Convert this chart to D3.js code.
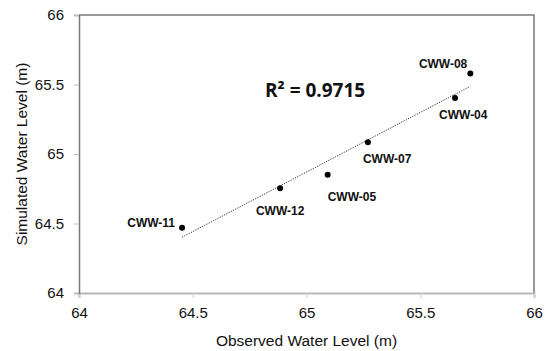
<!DOCTYPE html>
<html>
<head>
<meta charset="utf-8">
<script src="https://cdn.jsdelivr.net/npm/d3@7"></script>
<style>
  body { margin: 0; background: #fff; }
  svg { display: block; font-family: "Liberation Sans", Arial, sans-serif; }
</style>
</head>
<body>
<script>
// data
const wells    = ["CWW-08", "CWW-04", "CWW-07", "CWW-05", "CWW-12", "CWW-11"];
const observed = [65.72, 65.653, 65.27, 65.093, 64.884, 64.453];
const simulated= [65.58, 65.403, 65.084, 64.851, 64.753, 64.47];
const xTicks = [64, 64.5, 65, 65.5, 66];
const yTicks = [64, 64.5, 65, 65.5, 66];
const rSquared = "0.9715";

// label placement relative to each point (px)
const labelPos = {
  "CWW-08": { dx: -3, dy: -5, anchor: "end" },
  "CWW-04": { dx: -16, dy: 21, anchor: "start" },
  "CWW-07": { dx: -5, dy: 21, anchor: "start" },
  "CWW-05": { dx: 0, dy: 26, anchor: "start" },
  "CWW-12": { dx: 0, dy: 27, anchor: "middle" },
  "CWW-11": { dx: -7, dy: -1, anchor: "end" }
};

const width = 549, height = 351;
const margin = { top: 15, left: 79, right: 15, bottom: 58 };

const svg = d3.select("body").append("svg")
  .attr("width", width).attr("height", height);

const x = d3.scaleLinear().domain([64, 66]).range([margin.left, width - margin.right]);
const y = d3.scaleLinear().domain([64, 66]).range([height - margin.bottom, margin.top]);

const pts = wells.map((w, i) => ({ name: w, x: observed[i], y: simulated[i] }));

// frame (top + right borders)
svg.append("path")
  .attr("d", `M${x(64)},${y(66)}H${x(66)}V${y(64)}`)
  .attr("fill", "none").attr("stroke", "#7a7a7a").attr("stroke-width", 1.5);

// x axis
const xAxis = svg.append("g")
  .attr("transform", `translate(0,${y(64)})`)
  .call(d3.axisBottom(x).tickValues(xTicks).tickSize(5).tickPadding(9).tickFormat(d3.format("")));
xAxis.select(".domain").attr("stroke", "#b8b8b8").attr("stroke-width", 2);
xAxis.selectAll(".tick line").attr("stroke", "#cfcfcf");
xAxis.selectAll(".tick text").attr("font-size", 15).attr("fill", "#111")
  .attr("font-family", "Liberation Sans, Arial, sans-serif");

// y axis
const yAxis = svg.append("g")
  .attr("transform", `translate(${x(64)},0)`)
  .call(d3.axisLeft(y).tickValues(yTicks).tickSize(5).tickPadding(10).tickFormat(d3.format("")));
yAxis.select(".domain").attr("stroke", "#7a7a7a").attr("stroke-width", 1.5);
yAxis.selectAll(".tick line").attr("stroke", "#bdbdbd");
yAxis.selectAll(".tick text").attr("font-size", 15).attr("fill", "#111")
  .attr("font-family", "Liberation Sans, Arial, sans-serif");

// linear trend line (least squares)
const mx = d3.mean(pts, d => d.x), my = d3.mean(pts, d => d.y);
const slope = d3.sum(pts, d => (d.x - mx) * (d.y - my)) / d3.sum(pts, d => (d.x - mx) ** 2);
const icpt = my - slope * mx;
const [x0, x1] = d3.extent(pts, d => d.x);
svg.append("line")
  .attr("x1", x(x0)).attr("y1", y(icpt + slope * x0))
  .attr("x2", x(x1)).attr("y2", y(icpt + slope * x1))
  .attr("stroke", "#333").attr("stroke-width", 1)
  .attr("stroke-dasharray", "1.2,1.3");

// points
svg.append("g").selectAll("circle").data(pts).join("circle")
  .attr("cx", d => x(d.x)).attr("cy", d => y(d.y)).attr("r", 3)
  .attr("fill", "#000");

// point labels
svg.append("g").selectAll("text").data(pts).join("text")
  .attr("x", d => x(d.x) + labelPos[d.name].dx)
  .attr("y", d => y(d.y) + labelPos[d.name].dy)
  .attr("text-anchor", d => labelPos[d.name].anchor)
  .attr("font-size", 12).attr("font-weight", "bold").attr("fill", "#111")
  .text(d => d.name);

// R squared
svg.append("text")
  .attr("x", 265).attr("y", 97)
  .attr("font-family", "Open Sans, sans-serif")
  .attr("font-size", 19).attr("font-weight", "bold").attr("fill", "#111")
  .text("R² = " + rSquared);

// axis titles
svg.append("text")
  .attr("x", (x(64) + x(66)) / 2).attr("y", 346)
  .attr("text-anchor", "middle").attr("font-size", 15.5).attr("fill", "#111")
  .text("Observed Water Level (m)");

svg.append("text")
  .attr("transform", `translate(27,${(y(64) + y(66)) / 2}) rotate(-90)`)
  .attr("text-anchor", "middle").attr("font-size", 15.5).attr("fill", "#111")
  .text("Simulated Water Level (m)");
</script>
</body>
</html>
